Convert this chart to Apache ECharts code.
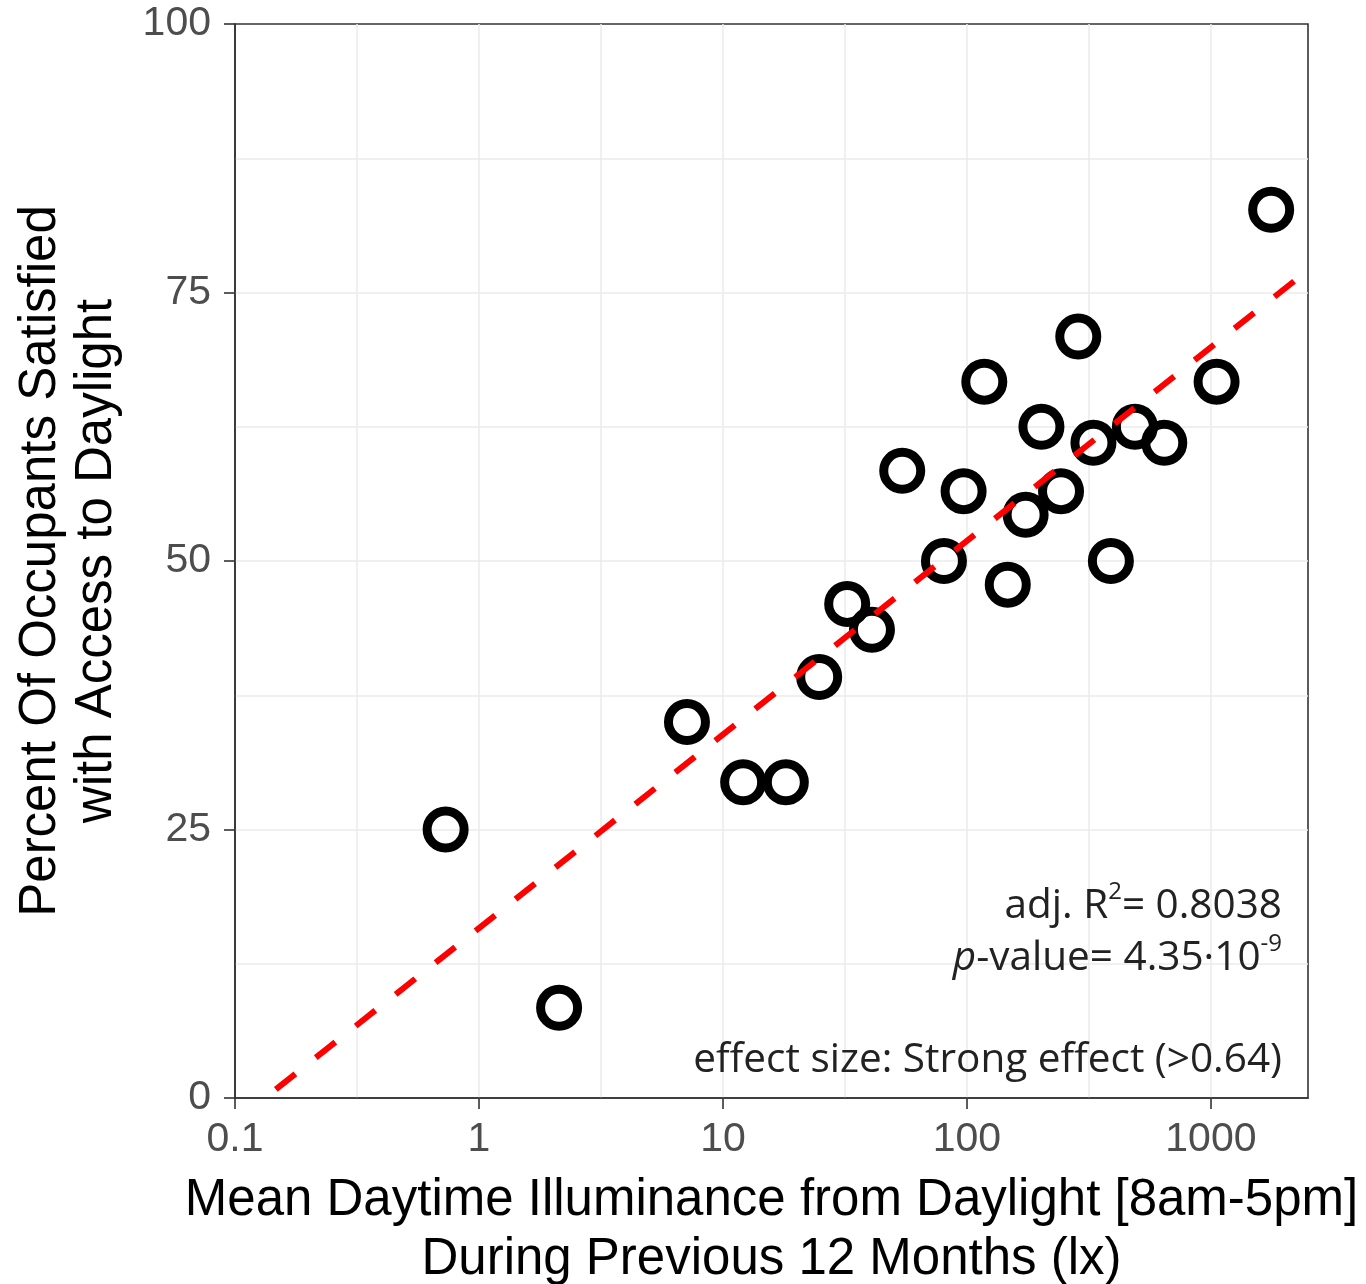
<!DOCTYPE html>
<html><head><meta charset="utf-8">
<script src="https://cdn.jsdelivr.net/npm/echarts@6/dist/echarts.min.js"></script>
<style>html,body{margin:0;padding:0;background:#fff}#c{width:1366px;height:1284px}</style>
</head><body><div id="c"></div>
<script>
// Mean daytime illuminance (lx) and % occupants satisfied
const illuminance = [0.73, 2.13, 7.12, 12.1, 18.1, 24.8, 32.3, 40.8, 54.3, 80.5, 96.9, 117.8, 147, 174, 202, 243, 286, 330, 389, 488, 644, 1055, 1766];
const satisfied   = [25.0, 8.4, 35.0, 29.4, 29.4, 39.2, 46.0, 43.6, 58.4, 50.0, 56.5, 66.7, 47.8, 54.3, 62.5, 56.5, 70.9, 61.0, 50.0, 62.5, 61.0, 66.7, 82.7];
// regression line end points (log-linear fit)
const fitX = [0.147, 2382];
const fitY = [0.8, 76.7];
const xTicks = [0.1, 1, 10, 100, 1000];
const xRange = [0.1, 2500];
const yRange = [0, 100];
const yStep = 25;
const xTitle = 'Mean Daytime Illuminance from Daylight [8am-5pm]\nDuring Previous 12 Months (lx)';
const yTitle = 'Percent Of Occupants Satisfied\nwith Access to Daylight';
const annR2 = 'adj. R{s|2}= 0.8038';
const annP = '{i|p}-value= 4.35·10{s|-9}';
const annEffect = 'effect size: Strong effect (>0.64)';

const points = illuminance.map((x, i) => [x, satisfied[i]]);
const fitLine = fitX.map((x, i) => [x, fitY[i]]);

const gridColor = '#EBEBEB';
const axisColor = '#333333';
const labelColor = '#4D4D4D';
const annFont = '"Open Sans", "Noto Sans", sans-serif';
const titleFont = '"Liberation Sans", Arial, sans-serif';

const chart = echarts.init(document.getElementById('c'), null, {renderer: 'canvas'});
chart.setOption({
  animation: false,
  backgroundColor: '#ffffff',
  grid: {left: 235, top: 24, width: 1073, height: 1074, show: true, borderColor: axisColor, borderWidth: 1.6,
    backgroundColor: 'transparent', containLabel: false, outerBoundsMode: 'none'},
  xAxis: [
    {
      type: 'log', logBase: 10, min: xRange[0], max: xRange[1],
      name: xTitle, nameLocation: 'middle', nameGap: 73,
      nameTextStyle: {fontFamily: titleFont, fontSize: 51, color: '#000', lineHeight: 59},
      axisLine: {show: true, onZero: false, lineStyle: {color: axisColor, width: 1.6}},
      axisTick: {show: true, length: 11, lineStyle: {color: axisColor, width: 1.6}, customValues: xTicks},
      axisLabel: {show: true, fontFamily: titleFont, fontSize: 41, color: labelColor, margin: 21, customValues: xTicks,
        formatter: v => String(v)},
      splitLine: {show: false},
      minorTick: {show: false}, minorSplitLine: {show: false}
    },
    {
      // decade / half-decade grid lines on log10 coordinates
      type: 'value', position: 'top', min: Math.log10(xRange[0]), max: Math.log10(xRange[1]), interval: 0.5,
      axisLine: {show: false, onZero: false}, axisTick: {show: false}, axisLabel: {show: false},
      splitLine: {show: true, showMinLine: false, showMaxLine: false, lineStyle: {color: gridColor, width: 1.5}}
    }
  ],
  yAxis: {
    type: 'value', min: yRange[0], max: yRange[1], interval: yStep,
    name: yTitle, nameLocation: 'middle', nameGap: 110, nameRotate: 90,
    nameTextStyle: {fontFamily: titleFont, fontSize: 51, color: '#000', lineHeight: 56},
    axisLine: {show: true, onZero: false, lineStyle: {color: axisColor, width: 1.6}},
    axisTick: {show: true, length: 11, lineStyle: {color: axisColor, width: 1.6}},
    axisLabel: {fontFamily: titleFont, fontSize: 41, color: labelColor, margin: 24},
    splitLine: {show: true, showMinLine: false, showMaxLine: false, lineStyle: {color: gridColor, width: 1.5}},
    minorTick: {show: false, splitNumber: 2},
    minorSplitLine: {show: true, lineStyle: {color: gridColor, width: 1.5}}
  },
  series: [
    {
      type: 'scatter', xAxisIndex: 0, yAxisIndex: 0, data: points,
      symbol: 'circle', symbolSize: 37,
      itemStyle: {color: 'rgba(0,0,0,0)', borderColor: '#000000', borderWidth: 9, opacity: 1},
      z: 3
    },
    {
      type: 'line', xAxisIndex: 0, yAxisIndex: 0, data: fitLine, symbol: 'none',
      lineStyle: {color: '#FF0000', width: 6, type: [25, 26], opacity: 1},
      z: 4
    }
  ],
  graphic: [
    {type: 'text', x: 1282, y: 906, z: 10, style: {text: annR2, align: 'right', verticalAlign: 'middle', fill: '#222', font: '40.5px ' + annFont,
      rich: {s: {fontSize: 24, fontFamily: annFont, fill: '#222', verticalAlign: 'top', lineHeight: 52}}}},
    {type: 'text', x: 1282, y: 958, z: 10, style: {text: annP, align: 'right', verticalAlign: 'middle', fill: '#222', font: '40.5px ' + annFont,
      rich: {s: {fontSize: 24, fontFamily: annFont, fill: '#222', verticalAlign: 'top', lineHeight: 52}, i: {fontStyle: 'italic', fontSize: 40.5, fontFamily: annFont, fill: '#222'}}}},
    {type: 'text', x: 1282, y: 1060, z: 10, style: {text: annEffect, align: 'right', verticalAlign: 'middle', fill: '#222', font: '40.5px ' + annFont}}
  ]
});
</script></body></html>
